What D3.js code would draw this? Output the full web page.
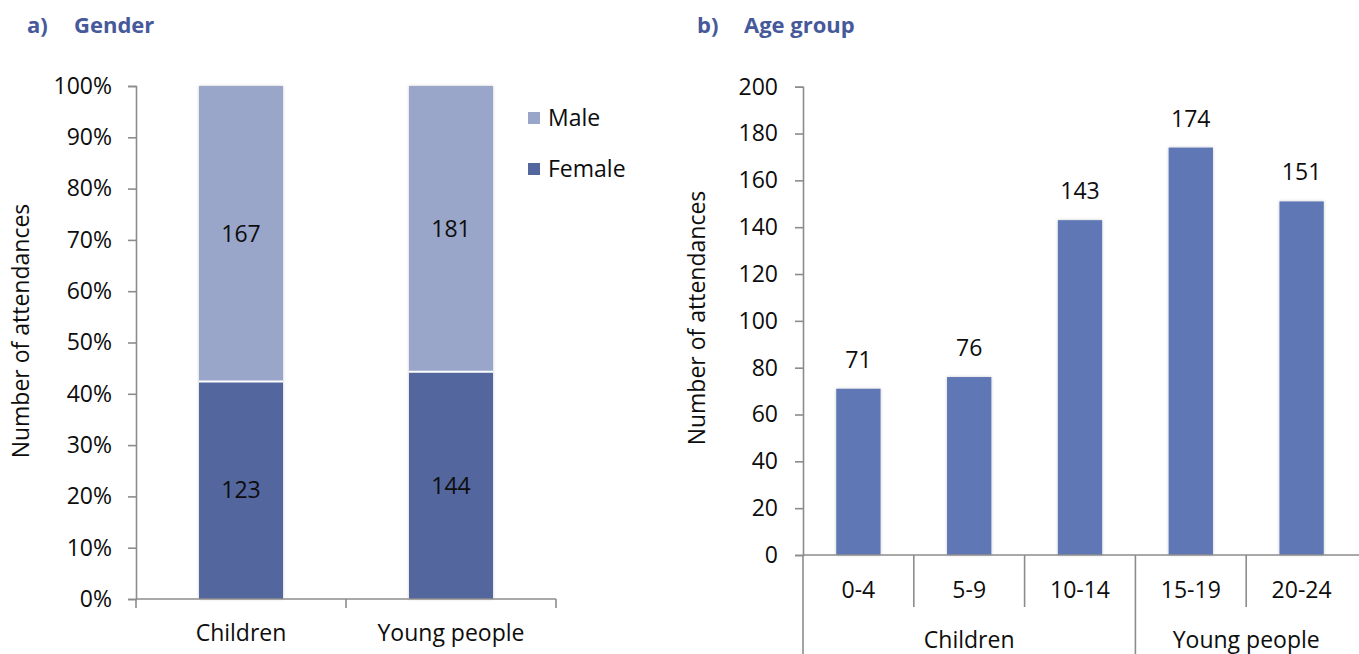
<!DOCTYPE html>
<html>
<head>
<meta charset="utf-8">
<script src="https://cdn.jsdelivr.net/npm/d3@7"></script>
<style>
  html, body { margin: 0; padding: 0; background: #fff; }
  svg { display: block; }
  text { font-family: "Open Sans", "Noto Sans", sans-serif; }
</style>
</head>
<body>
<svg id="chart" width="1359" height="654"></svg>
<script>
// ---- Data ----
const genderGroups = ["Children", "Young people"];
const femaleCounts = [123, 144];
const maleCounts = [167, 181];
const genderSeries = ["Male", "Female"];
const pctTicks = [0, 0.1, 0.2, 0.3, 0.4, 0.5, 0.6, 0.7, 0.8, 0.9, 1.0];

const ageGroups = ["0-4", "5-9", "10-14", "15-19", "20-24"];
const ageCounts = [71, 76, 143, 174, 151];
const ageParents = ["Children", "Children", "Children", "Young people", "Young people"];
const countTicks = [0, 20, 40, 60, 80, 100, 120, 140, 160, 180, 200];

const titleA = "Gender";
const titleB = "Age group";
const yTitle = "Number of attendances";

// ---- Styles ----
const cMale = "#99a6c9", cFemale = "#53669e", cAge = "#6177b5";
const cTitle = "#46599a", cAxis = "#8c8c8c", cText = "#0d0d0d";
const fs = 23;

const svg = d3.select("#chart");
const defs = svg.append("defs");
const f = defs.append("filter").attr("id", "sh").attr("x", "-20%").attr("y", "-5%").attr("width", "140%").attr("height", "110%");
f.append("feDropShadow").attr("dx", 0).attr("dy", 0).attr("stdDeviation", 1.8)
  .attr("flood-color", "#000").attr("flood-opacity", 0.22);

function txt(g) { return g.append("text").style("font-size", fs + "px").style("fill", cText); }

function styleAxis(g) {
  g.selectAll("path, line").attr("stroke", cAxis).attr("stroke-width", 1.6);
  g.selectAll("text").style("font-size", fs + "px").style("fill", cText);
}

// ---- Titles ----
function panelTitle(x, letter, t) {
  const g = svg.append("g").attr("transform", `translate(${x},33)`);
  g.append("text").attr("x", 0).text(letter)
    .style("font-size", "22px").style("font-weight", "700").style("fill", cTitle);
  g.append("text").attr("x", 47).text(t)
    .style("font-size", "22px").style("font-weight", "700").style("fill", cTitle);
}
panelTitle(27, "a)", titleA);
panelTitle(697, "b)", titleB);

// ---- Panel a: 100% stacked ----
{
  const x0 = 136, x1 = 556, yTop = 86, yBot = 599;
  const x = d3.scaleBand().domain(genderGroups).range([x0, x1]).paddingInner(0.6).paddingOuter(0.3);
  const xb = d3.scaleBand().domain(genderGroups).range([x0, x1]);
  const y = d3.scaleLinear().domain([0, 1]).range([yBot, yTop]);

  const totals = genderGroups.map((d, i) => femaleCounts[i] + maleCounts[i]);
  const stacked = genderGroups.map((g, i) => ({
    g,
    female: femaleCounts[i], male: maleCounts[i],
    fShare: femaleCounts[i] / totals[i]
  }));

  const gy = svg.append("g").attr("transform", `translate(${x0},0)`)
    .call(d3.axisLeft(y).tickValues(pctTicks).tickFormat(d3.format(".0%")).tickSize(8).tickPadding(16));
  styleAxis(gy);

  const bars = svg.append("g");
  stacked.forEach(d => {
    const bx = x(d.g), bw = x.bandwidth();
    bars.append("rect").attr("x", bx).attr("width", bw)
      .attr("y", y(1)).attr("height", y(0) - y(1))
      .attr("fill", "#fff").attr("filter", "url(#sh)");
    bars.append("rect").attr("x", bx).attr("width", bw)
      .attr("y", y(d.fShare)).attr("height", y(0) - y(d.fShare)).attr("fill", cFemale);
    bars.append("rect").attr("x", bx).attr("width", bw)
      .attr("y", y(1)).attr("height", y(d.fShare) - y(1)).attr("fill", cMale);
    bars.append("line").attr("x1", bx).attr("x2", bx + bw)
      .attr("y1", y(d.fShare)).attr("y2", y(d.fShare)).attr("stroke", "#fff").attr("stroke-width", 2);
    txt(bars).attr("x", bx + bw / 2).attr("y", (y(d.fShare) + y(1)) / 2)
      .attr("text-anchor", "middle").attr("dy", "0.36em").text(d.male);
    txt(bars).attr("x", bx + bw / 2).attr("y", (y(d.fShare) + y(0)) / 2)
      .attr("text-anchor", "middle").attr("dy", "0.36em").text(d.female);
  });

  // x axis with ticks at category boundaries
  const gx = svg.append("g");
  gx.append("line").attr("x1", x0).attr("x2", x1).attr("y1", yBot).attr("y2", yBot)
    .attr("stroke", cAxis).attr("stroke-width", 1.6);
  const bounds = [x0].concat(genderGroups.map(g => xb(g) + xb.bandwidth()));
  bounds.forEach(b => gx.append("line").attr("x1", b).attr("x2", b).attr("y1", yBot).attr("y2", yBot + 9)
    .attr("stroke", cAxis).attr("stroke-width", 1.6));
  genderGroups.forEach(g => txt(gx).attr("x", xb(g) + xb.bandwidth() / 2).attr("y", 641)
    .attr("text-anchor", "middle").text(g));

  txt(svg).attr("transform", `translate(29,331) rotate(-90)`)
    .attr("text-anchor", "middle").text(yTitle);

  // legend
  const leg = svg.append("g");
  const legColors = { Male: cMale, Female: cFemale };
  genderSeries.forEach((s, i) => {
    const ly = 118 + i * 51;
    leg.append("rect").attr("x", 528).attr("y", ly - 6).attr("width", 12).attr("height", 12).attr("fill", legColors[s]);
    txt(leg).attr("x", 548).attr("y", ly).attr("dy", "0.36em").text(s);
  });
}

// ---- Panel b: age groups ----
{
  const x0 = 803, x1 = 1357, yTop = 86.7, yBot = 555;
  const x = d3.scaleBand().domain(ageGroups).range([x0, x1]).paddingInner(0.6).paddingOuter(0.3);
  const xb = d3.scaleBand().domain(ageGroups).range([x0, x1]);
  const y = d3.scaleLinear().domain([0, 200]).range([yBot, yTop]);

  const gy = svg.append("g").attr("transform", `translate(${x0},0)`)
    .call(d3.axisLeft(y).tickValues(countTicks).tickSize(8).tickPadding(17));
  styleAxis(gy);

  const bars = svg.append("g");
  ageGroups.forEach((a, i) => {
    bars.append("rect").attr("x", x(a)).attr("width", x.bandwidth())
      .attr("y", y(ageCounts[i])).attr("height", y(0) - y(ageCounts[i]))
      .attr("fill", cAge).attr("filter", "url(#sh)");
    txt(bars).attr("x", x(a) + x.bandwidth() / 2).attr("y", y(ageCounts[i]) - 21)
      .attr("text-anchor", "middle").text(ageCounts[i]);
  });

  const gx = svg.append("g");
  gx.append("line").attr("x1", x0).attr("x2", x1 + 2).attr("y1", yBot).attr("y2", yBot)
    .attr("stroke", cAxis).attr("stroke-width", 1.6);
  // separators between sub categories
  ageGroups.forEach((a, i) => {
    const left = xb(a);
    const isGroupStart = i === 0 || ageParents[i] !== ageParents[i - 1];
    gx.append("line").attr("x1", left).attr("x2", left).attr("y1", yBot)
      .attr("y2", isGroupStart ? 654 : 607).attr("stroke", cAxis).attr("stroke-width", 1.6);
    txt(gx).attr("x", left + xb.bandwidth() / 2).attr("y", 598)
      .attr("text-anchor", "middle").text(a);
  });
  // group labels
  const parents = Array.from(new Set(ageParents));
  parents.forEach(p => {
    const members = ageGroups.filter((a, i) => ageParents[i] === p);
    const l = xb(members[0]), r = xb(members[members.length - 1]) + xb.bandwidth();
    txt(gx).attr("x", (l + r) / 2).attr("y", 648)
      .attr("text-anchor", "middle").text(p);
  });

  txt(svg).attr("transform", `translate(705,318) rotate(-90)`)
    .attr("text-anchor", "middle").text(yTitle);
}
</script>
</body>
</html>
